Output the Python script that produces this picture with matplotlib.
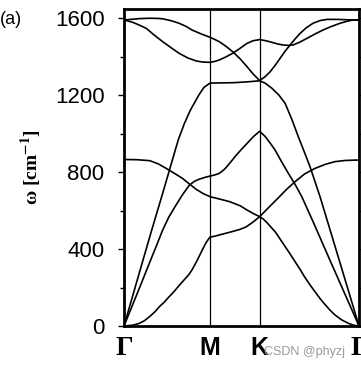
import matplotlib.pyplot as plt

plt.rcParams["font.family"] = ["Liberation Sans", "DejaVu Sans"]
plt.rcParams["mathtext.fontset"] = "stix"

# path coordinate: Gamma = 0, M = 1, K = 1.577, Gamma = 2.732
q_points = [0.0, 1.0, 1.577, 2.732]
q_labels = ["Γ", "M", "K", "Γ"]
y_ticks = [0, 400, 800, 1200, 1600]

# branches (q, omega in cm^-1)
za_q = [0.0, 0.1, 0.18, 0.24, 0.30, 0.36, 0.41, 0.47, 0.52, 0.58, 0.64, 0.70, 0.75, 0.79,
        0.85, 0.91, 0.95, 0.98, 1.0, 1.05, 1.108, 1.228, 1.349, 1.42, 1.50, 1.577,
        1.62, 1.66, 1.70, 1.757, 1.81, 1.87, 1.93, 1.989, 2.05, 2.10, 2.16, 2.221,
        2.28, 2.34, 2.40, 2.454, 2.53, 2.608, 2.67, 2.732]
za_w = [0, 4, 14, 28, 50, 74, 100, 125, 150, 178, 210, 240, 265, 291,
        340, 395, 430, 450, 462, 466, 473, 487, 502, 515, 540, 568,
        555, 538, 518, 490, 455, 415, 375, 334, 292, 255, 215, 178,
        142, 110, 80, 57, 32, 14, 4, 0]

ta_q = [0.0, 0.1, 0.2, 0.3, 0.38, 0.45, 0.52, 0.60, 0.68, 0.76, 0.82, 0.87, 0.94, 1.0,
        1.05, 1.108, 1.17, 1.228, 1.30, 1.37, 1.429, 1.50, 1.577,
        1.64, 1.70, 1.757, 1.83, 1.911, 1.99, 2.067, 2.2, 2.4, 2.6, 2.732]
ta_w = [0, 110, 220, 332, 420, 499, 565, 625, 682, 732, 752, 762, 772, 779,
        784, 793, 815, 845, 885, 920, 948, 982, 1012,
        985, 950, 914, 855, 793, 735, 672, 540, 336, 134, 0]

la_q = [0.0, 0.2, 0.32, 0.45, 0.63, 0.70, 0.77, 0.87, 0.93, 1.0, 1.1, 1.264, 1.42, 1.577,
        1.64, 1.72, 1.80, 1.873, 1.95, 2.027, 2.10, 2.163, 2.279, 2.5, 2.732]
la_w = [0, 310, 495, 690, 966, 1050, 1120, 1200, 1240, 1262, 1263, 1264, 1268, 1274,
        1262, 1235, 1200, 1157, 1075, 983, 900, 827, 672, 345, 0]

zo_q = [0.0, 0.15, 0.30, 0.40, 0.49, 0.58, 0.68, 0.76, 0.84, 0.92, 1.0, 1.108, 1.228,
        1.349, 1.429, 1.50, 1.577, 1.68, 1.792, 1.89, 1.989, 2.10, 2.221, 2.34, 2.454,
        2.57, 2.686, 2.732]
zo_w = [865, 864, 859, 842, 819, 795, 767, 738, 710, 688, 672, 660, 646,
        625, 603, 585, 568, 615, 665, 710, 750, 790, 819, 840, 854,
        860, 862, 862]

lo_q = [0.0, 0.08, 0.18, 0.30, 0.40, 0.45, 0.55, 0.64, 0.72, 0.79, 0.90, 1.0, 1.05, 1.108,
        1.18, 1.264, 1.35, 1.429, 1.50, 1.577, 1.64, 1.699, 1.76, 1.815, 1.87, 1.931,
        1.99, 2.047, 2.12, 2.198, 2.28, 2.361, 2.48, 2.593, 2.732]
lo_w = [1590, 1593, 1597, 1599, 1598, 1596, 1586, 1573, 1557, 1538, 1517, 1500, 1490, 1477,
        1455, 1425, 1388, 1348, 1310, 1275, 1295, 1321, 1356, 1391, 1426, 1460,
        1492, 1520, 1550, 1573, 1587, 1593, 1593, 1591, 1590]

to_q = [0.0, 0.10, 0.18, 0.26, 0.35, 0.45, 0.55, 0.64, 0.74, 0.84, 0.92, 1.0, 1.05, 1.108,
        1.18, 1.264, 1.35, 1.429, 1.50, 1.577, 1.65, 1.734, 1.79, 1.850, 1.91, 1.966,
        2.04, 2.125, 2.22, 2.314, 2.41, 2.512, 2.60, 2.663, 2.732]
to_w = [1590, 1578, 1563, 1546, 1512, 1477, 1445, 1417, 1393, 1377, 1371, 1370, 1374, 1382,
        1397, 1417, 1443, 1468, 1482, 1488, 1482, 1472, 1465, 1460, 1458, 1460,
        1474, 1494, 1517, 1538, 1556, 1573, 1584, 1590, 1590]

fig = plt.figure(figsize=(3.61, 3.71), dpi=100)
ax = fig.add_axes([124 / 361, 45 / 371, 235 / 361, 317 / 371])

for q, w in [(za_q, za_w), (ta_q, ta_w), (la_q, la_w),
             (zo_q, zo_w), (lo_q, lo_w), (to_q, to_w)]:
    ax.plot(q, w, color="k", linewidth=1.2)

for q in q_points[1:3]:
    ax.axvline(q, color="k", linewidth=0.9)

ax.set_xlim(q_points[0], q_points[-1])
ax.set_ylim(0, 1647)
ax.set_xticks(q_points)
ax.set_xticklabels(q_labels, fontsize=18, fontweight="bold")
for lbl in ax.get_xticklabels():
    if lbl.get_text() == "Γ":
        lbl.set_family("Liberation Serif")
        lbl.set_fontsize(20)
ax.tick_params(axis="x", length=0, pad=7)

ax.set_yticks(y_ticks)
ax.set_yticks(range(200, 1600, 400), minor=True)
ax.tick_params(axis="y", which="major", direction="out", length=4, width=1,
               labelsize=16, pad=10, right=True)
ax.tick_params(axis="y", which="minor", direction="out", length=3, width=1, right=True)

for s in ax.spines.values():
    s.set_linewidth(2.0)

ax.set_ylabel(r"ω [cm$^{\mathbf{-1}}$]", family="Liberation Serif",
              fontweight="bold", fontsize=14, labelpad=8)

fig.text(0.0, 352 / 371, "(a)", fontsize=13, va="center", ha="left")
fig.text(264 / 361, 19 / 371, "CSDN @phyzj", fontsize=9, color="#9a9a9a",
         va="center", ha="left")

fig.savefig("out.png", dpi=100)
